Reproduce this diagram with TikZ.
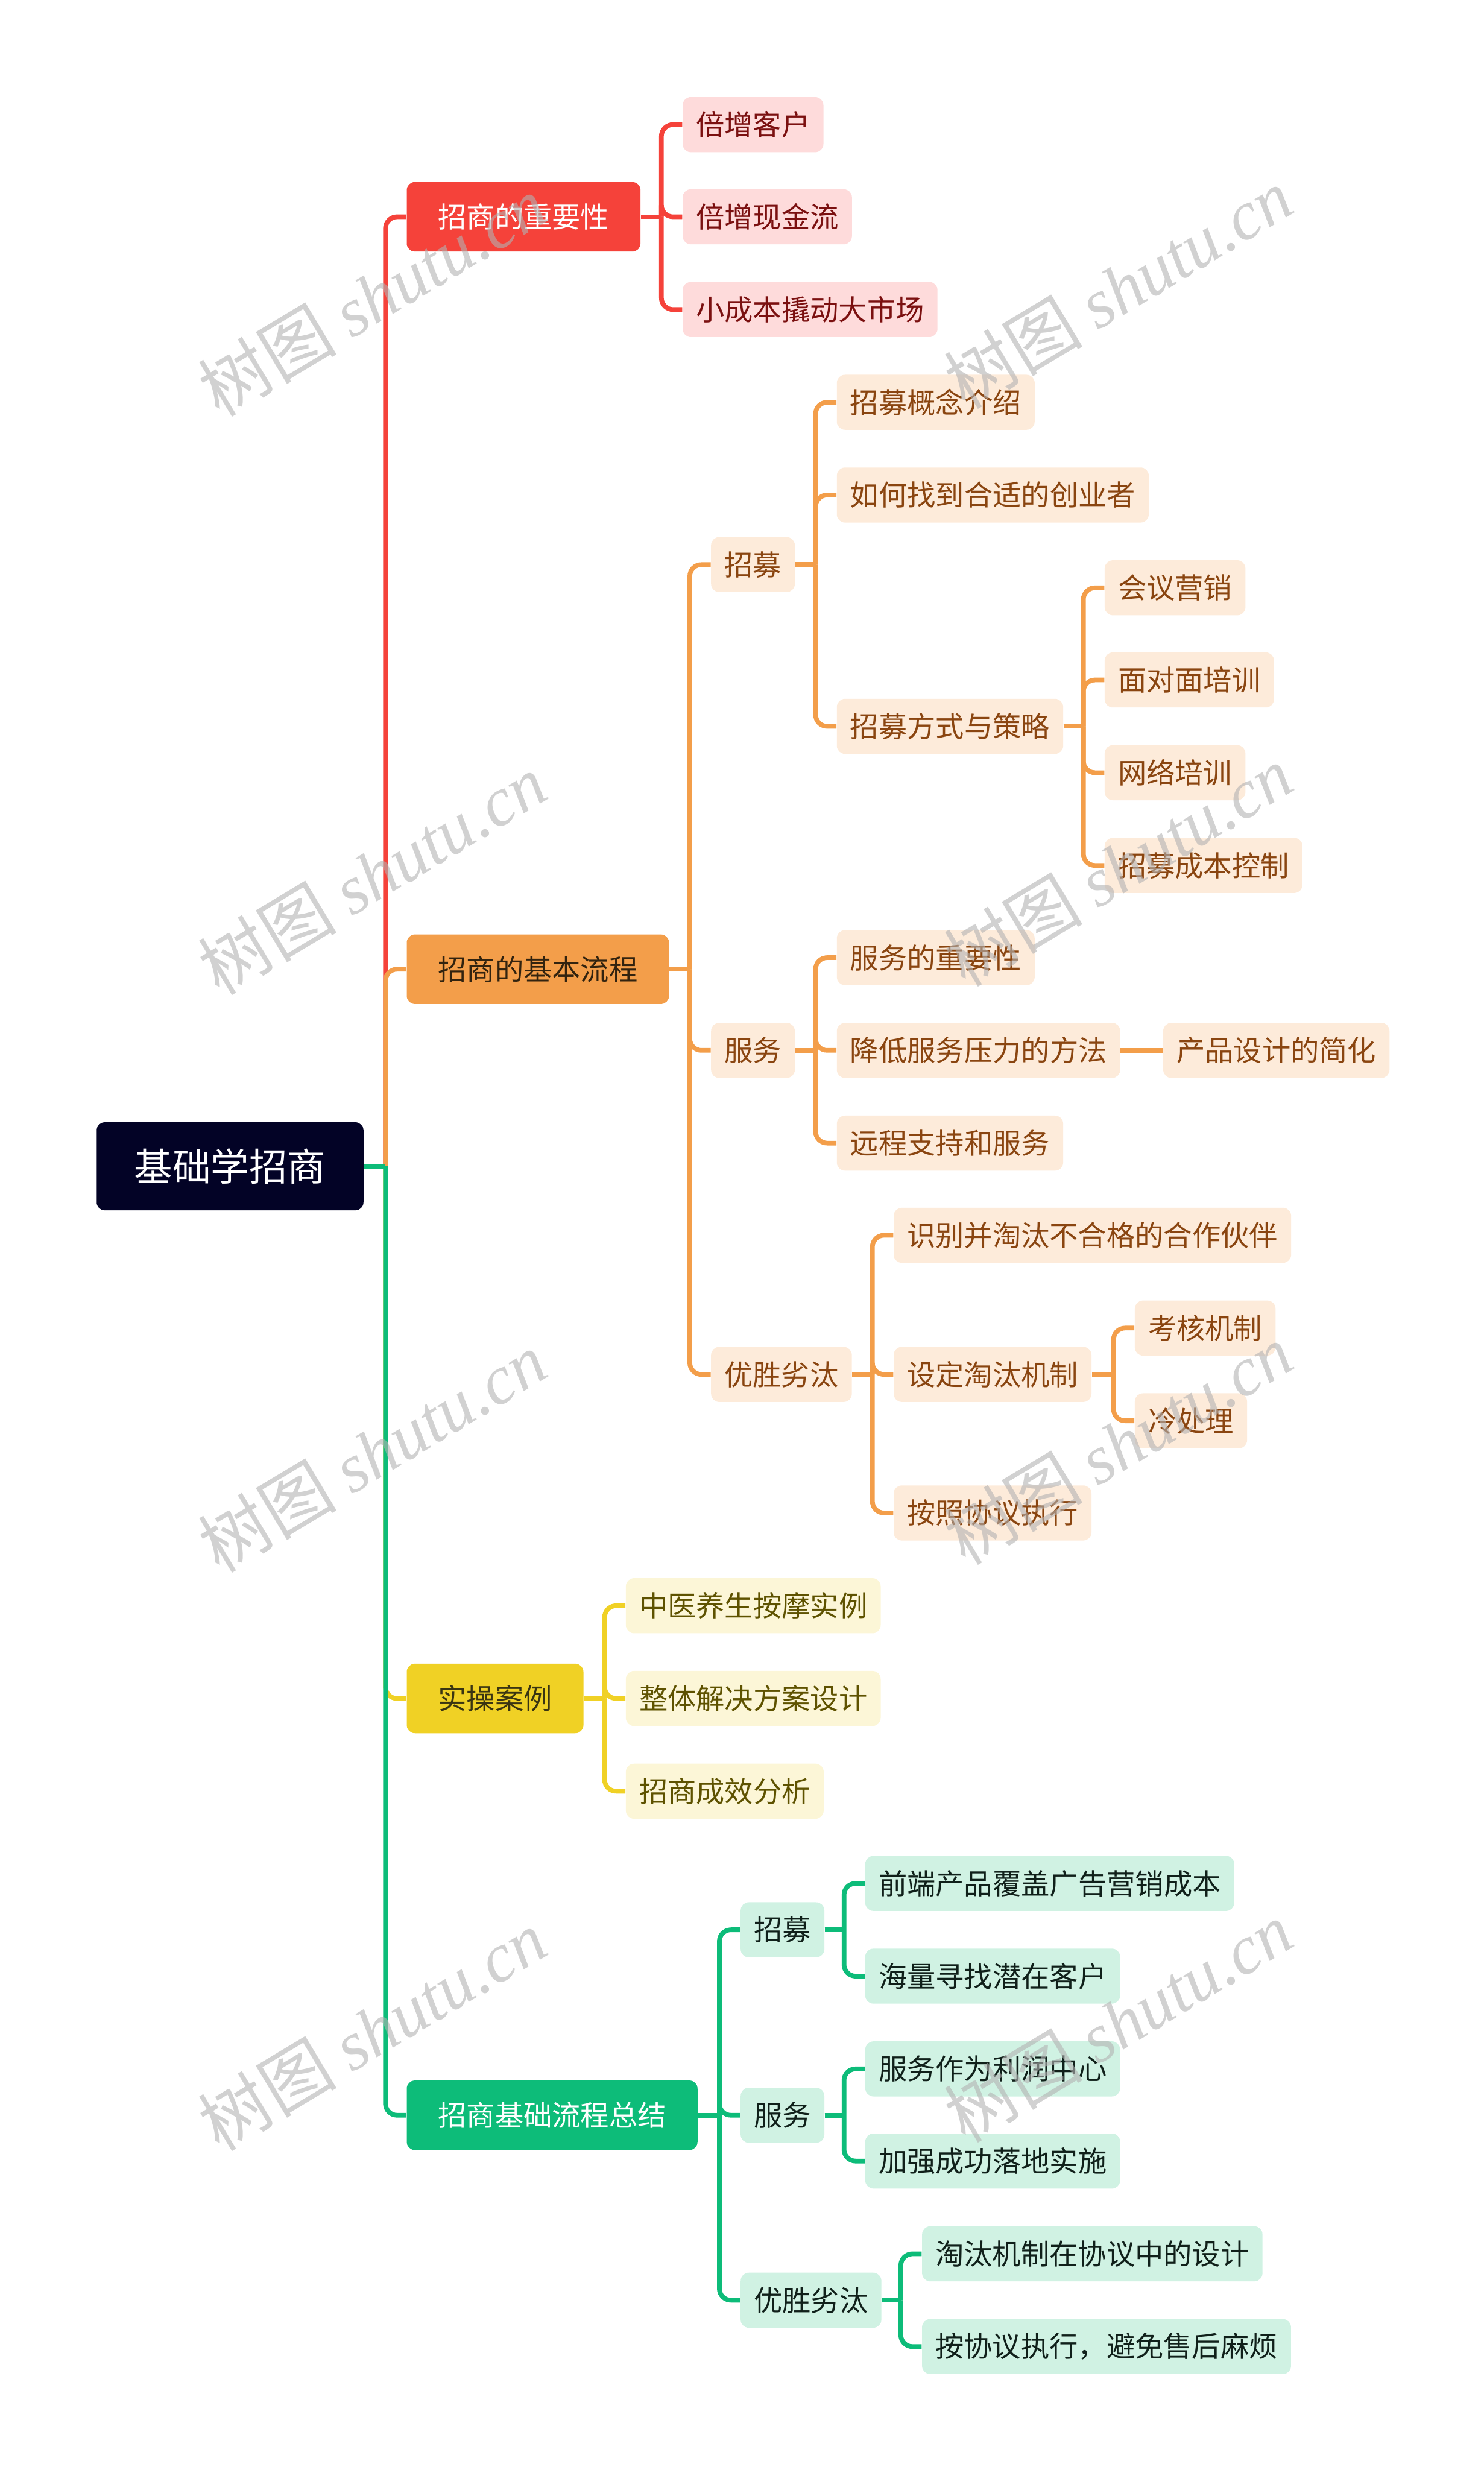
\documentclass[tikz,border=0pt]{standalone}
\usepackage{fontspec}
\newfontfamily\cjk{Noto Sans CJK SC}
\newfontfamily\wmserif{Liberation Serif}
\usetikzlibrary{positioning}
\definecolor{rootc}{RGB}{3,3,38}
\definecolor{redc}{RGB}{245,66,58}
\definecolor{redl}{RGB}{254,219,219}
\definecolor{redt}{RGB}{123,16,16}
\definecolor{orgc}{RGB}{243,158,74}
\definecolor{orgl}{RGB}{253,235,218}
\definecolor{orgt}{RGB}{138,69,16}
\definecolor{ylwc}{RGB}{240,209,37}
\definecolor{ylwl}{RGB}{252,246,215}
\definecolor{ylwt}{RGB}{94,82,0}
\definecolor{grnc}{RGB}{13,188,121}
\definecolor{grnl}{RGB}{208,242,227}
\definecolor{grnt}{RGB}{16,32,26}
\tikzset{
  root/.style={fill=rootc,text=white,rounded corners=4pt,anchor=west,
    minimum height=15.2mm,inner xsep=6.5mm,inner ysep=0pt,
    font=\cjk\fontsize{18.8}{21}\selectfont},
  topic/.style={fill=#1c,rounded corners=4pt,anchor=west,
    minimum height=12mm,inner xsep=5.4mm,inner ysep=0pt,
    font=\cjk\fontsize{14}{16}\selectfont},
  leaf/.style={fill=#1l,text=#1t,rounded corners=4pt,anchor=west,
    minimum height=9.5mm,inner xsep=2.3mm,inner ysep=0pt,
    font=\cjk\fontsize{14}{16}\selectfont},
  link/.style={draw=#1c,line width=2.3pt,rounded corners=2mm},
  wmark/.style={rotate=31,text=black!30,text opacity=0.6,
    font=\cjk\fontsize{34}{36}\selectfont},
}
% parent -> children through a vertical bus just left of the children
\newcommand\fan[3]{%
  \foreach \kid in {#3}{
    \coordinate (bus) at ([xshift=-3.6mm]\kid.west);
    \draw[link=#1,sharp corners] (#2.east) -- (bus |- #2.east);
    \draw[link=#1] (bus |- #2.east) |- (\kid.west);
  }}
\begin{document}
\begin{tikzpicture}
  \useasboundingbox (0,0) rectangle (25.6,-42.61);

  \node[root] (root) at (1.66,-20.12) {基础学招商};

  % main topics
  \node[topic=red,text=white] (imp) at (7.01,-3.74) {招商的重要性};
  \node[topic=org,text={rgb,255:red,50;green,35;blue,15}] (flow) at (7.01,-16.72) {招商的基本流程};
  \node[topic=ylw,text={rgb,255:red,58;green,53;blue,18}] (case) at (7.01,-29.30) {实操案例};
  \node[topic=grn,text=white] (sum) at (7.01,-36.49) {招商基础流程总结};

  % 招商的重要性
  \node[leaf=red] (i1) at (11.77,-2.15) {倍增客户};
  \node[leaf=red] (i2) at (11.77,-3.74) {倍增现金流};
  \node[leaf=red] (i3) at (11.77,-5.34) {小成本撬动大市场};

  % 招商的基本流程
  \node[leaf=org] (zm) at (12.26,-9.74) {招募};
  \node[leaf=org] (fw) at (12.26,-18.12) {服务};
  \node[leaf=org] (ys) at (12.26,-23.71) {优胜劣汰};
  \node[leaf=org] (zm1) at (14.43,-6.94) {招募概念介绍};
  \node[leaf=org] (zm2) at (14.43,-8.54) {如何找到合适的创业者};
  \node[leaf=org] (zm3) at (14.43,-12.53) {招募方式与策略};
  \node[leaf=org] (zm31) at (19.05,-10.14) {会议营销};
  \node[leaf=org] (zm32) at (19.05,-11.73) {面对面培训};
  \node[leaf=org] (zm33) at (19.05,-13.33) {网络培训};
  \node[leaf=org] (zm34) at (19.05,-14.93) {招募成本控制};
  \node[leaf=org] (fw1) at (14.43,-16.52) {服务的重要性};
  \node[leaf=org] (fw2) at (14.43,-18.12) {降低服务压力的方法};
  \node[leaf=org] (fw3) at (14.43,-19.72) {远程支持和服务};
  \node[leaf=org] (fw21) at (20.06,-18.12) {产品设计的简化};
  \node[leaf=org] (ys1) at (15.41,-21.31) {识别并淘汰不合格的合作伙伴};
  \node[leaf=org] (ys2) at (15.41,-23.71) {设定淘汰机制};
  \node[leaf=org] (ys3) at (15.41,-26.10) {按照协议执行};
  \node[leaf=org] (ys21) at (19.57,-22.91) {考核机制};
  \node[leaf=org] (ys22) at (19.57,-24.51) {冷处理};

  % 实操案例
  \node[leaf=ylw] (c1) at (10.79,-27.70) {中医养生按摩实例};
  \node[leaf=ylw] (c2) at (10.79,-29.30) {整体解决方案设计};
  \node[leaf=ylw] (c3) at (10.79,-30.90) {招商成效分析};

  % 招商基础流程总结
  \node[leaf=grn] (szm) at (12.77,-33.29) {招募};
  \node[leaf=grn] (sfw) at (12.77,-36.49) {服务};
  \node[leaf=grn] (sys) at (12.77,-39.68) {优胜劣汰};
  \node[leaf=grn] (szm1) at (14.92,-32.49) {前端产品覆盖广告营销成本};
  \node[leaf=grn] (szm2) at (14.92,-34.09) {海量寻找潜在客户};
  \node[leaf=grn] (sfw1) at (14.92,-35.69) {服务作为利润中心};
  \node[leaf=grn] (sfw2) at (14.92,-37.28) {加强成功落地实施};
  \node[leaf=grn] (sys1) at (15.90,-38.88) {淘汰机制在协议中的设计};
  \node[leaf=grn] (sys2) at (15.90,-40.48) {按协议执行，避免售后麻烦};

  % connectors
  \fan{red}{root}{imp}
  \fan{org}{root}{flow}
  \fan{ylw}{root}{case}
  \fan{grn}{root}{sum}
  \fan{red}{imp}{i1,i2,i3}
  \fan{org}{flow}{zm,fw,ys}
  \fan{org}{zm}{zm1,zm2,zm3}
  \fan{org}{zm3}{zm31,zm32,zm33,zm34}
  \fan{org}{fw}{fw1,fw2,fw3}
  \draw[link=org] (fw2.east) -- (fw21.west);
  \fan{org}{ys}{ys1,ys2,ys3}
  \fan{org}{ys2}{ys21,ys22}
  \fan{ylw}{case}{c1,c2,c3}
  \fan{grn}{sum}{szm,sfw,sys}
  \fan{grn}{szm}{szm1,szm2}
  \fan{grn}{sfw}{sfw1,sfw2}
  \fan{grn}{sys}{sys1,sys2}

  % watermark
  \foreach \x/\y [count=\i] in {6.42/-5.11,6.42/-15.08,6.42/-25.05,6.42/-35.02,
      19.29/-4.97,19.29/-14.94,19.29/-24.91,19.29/-34.88}
    \node[wmark] (wm\i) at (\x,\y) {树图 {\wmserif\itshape shutu.cn}};
\end{tikzpicture}
\end{document}
